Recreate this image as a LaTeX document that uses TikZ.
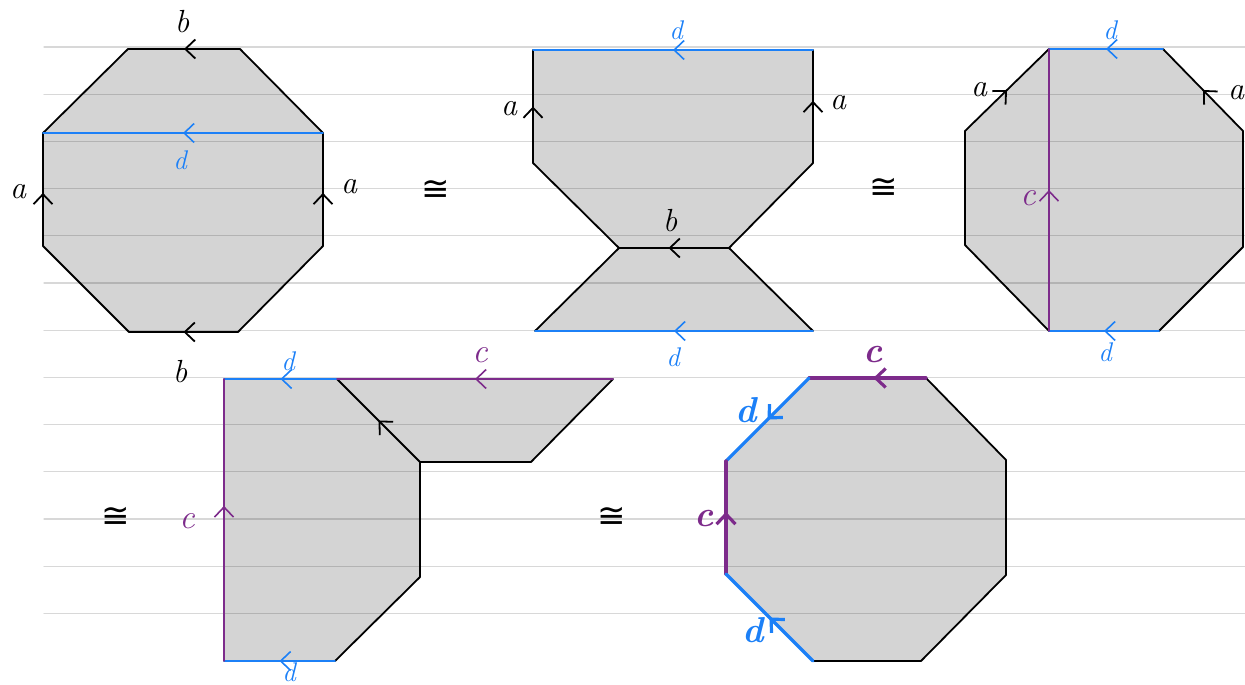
\documentclass[tikz,border=0pt]{standalone}
\usepackage{fontspec}
\newfontfamily\symbfont{DejaVu Sans}
\usepackage{tikz}
\usetikzlibrary{arrows.meta,decorations.markings,calc}
\definecolor{azure}{HTML}{1C80F7}
\definecolor{plum}{HTML}{7D2B8B}
\definecolor{ruling}{HTML}{D8D8D8}

\begin{document}
\begin{tikzpicture}[x=1pt,y=-1pt,line join=round,line cap=round]
  \tikzset{
    face/.style={fill=black,fill opacity=0.17,draw=none},
    rim/.style={color=black,line width=1.8pt},
    seam/.style={line width=1.6pt},
    thickseam/.style={line width=3.2pt},
    glued/.style={postaction={decorate,decoration={markings,
      mark=at position #1 with {\arrow{Straight Barb[length=10pt,width=19pt]}}}}},
    glued/.default=0.5,
    lbl/.style={inner sep=0pt,font=\fontsize{32}{36}\selectfont\itshape},
    tag/.style={inner sep=0pt,font=\fontsize{27}{30}\selectfont\itshape},
    ctag/.style={inner sep=0pt,font=\fontsize{34}{38}\selectfont\itshape},
    boldtag/.style={inner sep=0pt,font=\fontsize{36}{40}\selectfont\bfseries\itshape},
    iso/.style={inner sep=0pt,font=\fontsize{34}{38}\selectfont\symbfont}
  }
  \useasboundingbox (0,0) rectangle (1245,685);

  % ruled paper
  \foreach \k in {0,...,12}
    \draw[ruling,line width=1.2pt] (44,{47+47.2*\k}) -- (1245,{47+47.2*\k});

  % first octagon
  \coordinate (o1) at (128,49);  \coordinate (o2) at (240,49);
  \coordinate (o3) at (323,133); \coordinate (o4) at (323,246);
  \coordinate (o5) at (238,332); \coordinate (o6) at (129,332);
  \coordinate (o7) at (43,246);  \coordinate (o8) at (43,133);
  \fill[face] (o1) -- (o2) -- (o3) -- (o4) -- (o5) -- (o6) -- (o7) -- (o8) -- cycle;
  \draw[rim] (o2) -- (o3) (o4) -- (o5) (o6) -- (o7) (o8) -- (o1);
  \draw[rim,glued] (o2) -- (o1);
  \draw[rim,glued] (o5) -- (o6);
  \draw[rim,glued=0.47] (o4) -- (o3);
  \draw[rim,glued=0.47] (o7) -- (o8);
  \draw[azure,seam,glued] (o3) -- (o8);
  \node[lbl] (btop) at (182,22) {b};
  \node[lbl] (bbot) at (180,372) {b};
  \node[lbl] (aleft) at (18,192) {a};
  \node[lbl] (aright) at (349,187) {a};
  \node[tag,azure] (dmid) at (180,160) {d};

  \node[iso] (iso1) at (436,190) {≅};

  % hourglass
  \coordinate (h1) at (533,50);  \coordinate (h2) at (813,50);
  \coordinate (h3) at (813,163); \coordinate (h4) at (729,248);
  \coordinate (h5) at (813,331); \coordinate (h6) at (535,331);
  \coordinate (h7) at (619,248); \coordinate (h8) at (533,163);
  \fill[face] (h1) -- (h2) -- (h3) -- (h4) -- (h5) -- (h6) -- (h7) -- (h8) -- cycle;
  \draw[rim] (h3) -- (h4) -- (h5) (h8) -- (h7) -- (h6);
  \draw[rim,glued=0.5] (h8) -- (h1);
  \draw[rim,glued=0.55] (h3) -- (h2);
  \draw[rim,glued=0.55] (h4) -- (h7);
  \draw[azure,seam,glued] (h2) -- (h1);
  \draw[azure,seam,glued] (h5) -- (h6);
  \node[tag,azure] (dtop2) at (676,30) {d};
  \node[lbl] (aleft2) at (509,109) {a};
  \node[lbl] (aright2) at (838,103) {a};
  \node[lbl] (bmid2) at (670,221) {b};
  \node[tag,azure] (dbot2) at (673,357) {d};

  \node[iso] (iso2) at (884,188) {≅};

  % octagon with the cut c
  \coordinate (q1) at (1049,49);  \coordinate (q2) at (1163,49);
  \coordinate (q3) at (1243,131); \coordinate (q4) at (1243,247);
  \coordinate (q5) at (1159,331); \coordinate (q6) at (1049,331);
  \coordinate (q7) at (965,245);  \coordinate (q8) at (965,131);
  \fill[face] (q1) -- (q2) -- (q3) -- (q4) -- (q5) -- (q6) -- (q7) -- (q8) -- cycle;
  \draw[rim] (q3) -- (q4) -- (q5) (q6) -- (q7) -- (q8);
  \draw[rim,glued] (q8) -- (q1);
  \draw[rim,glued] (q3) -- (q2);
  \draw[azure,seam,glued] (q2) -- (q1);
  \draw[azure,seam,glued] (q5) -- (q6);
  \draw[plum,seam,glued=0.5] (q6) -- (q1);
  \node[tag,azure] (dtop3) at (1110,30) {d};
  \node[lbl] (aleft3) at (979,90) {a};
  \node[lbl] (aright3) at (1236,93) {a};
  \node[ctag,plum] (cmid3) at (1028,198) {c};
  \node[tag,azure] (dbot3) at (1105,352) {d};

  % second row
  \node[iso] (iso3) at (116,517) {≅};

  \coordinate (l1) at (224,379); \coordinate (l2) at (337,379);
  \coordinate (l3) at (420,462); \coordinate (l4) at (420,577);
  \coordinate (l5) at (335,661); \coordinate (l6) at (224,661);
  \coordinate (t1) at (613,379); \coordinate (t2) at (531,462);
  \fill[face] (l1) -- (l2) -- (l3) -- (l4) -- (l5) -- (l6) -- cycle;
  \fill[face] (l2) -- (t1) -- (t2) -- (l3) -- cycle;
  \draw[rim] (t1) -- (t2) -- (l3) -- (l4) -- (l5);
  \draw[rim,glued] (l3) -- (l2);
  \draw[azure,seam,glued] (l2) -- (l1);
  \draw[azure,seam,glued] (l5) -- (l6);
  \draw[plum,seam,glued] (t1) -- (l2);
  \draw[plum,seam,glued=0.55] (l6) -- (l1);
  \node[tag,azure] (dtop4) at (288,361) {d};
  \node[ctag,plum] (ctop4) at (480,355) {c};
  \node[ctag,plum] (cleft4) at (187,521) {c};
  \node[tag,azure] (dbot4) at (289,672) {d};

  \node[iso] (iso4) at (612,517) {≅};

  % final octagon
  \coordinate (s1) at (809,378);  \coordinate (s2) at (926,378);
  \coordinate (s3) at (1006,460); \coordinate (s4) at (1006,575);
  \coordinate (s5) at (921,661);  \coordinate (s6) at (813,661);
  \coordinate (s7) at (726,574);  \coordinate (s8) at (726,461);
  \fill[face] (s1) -- (s2) -- (s3) -- (s4) -- (s5) -- (s6) -- (s7) -- (s8) -- cycle;
  \draw[rim] (s2) -- (s3) -- (s4) -- (s5) -- (s6);
  \draw[plum,thickseam,glued=0.45] (s2) -- (s1);
  \draw[azure,thickseam,glued] (s1) -- (s8);
  \draw[plum,thickseam,glued=0.55] (s7) -- (s8);
  \draw[azure,thickseam,glued] (s6) -- (s7);
  \node[boldtag,plum] (ctop5) at (873,355) {c};
  \node[boldtag,azure] (dup5) at (746,410) {d};
  \node[boldtag,plum] (cleft5) at (704,519) {c};
  \node[boldtag,azure] (dlow5) at (753,630) {d};
\end{tikzpicture}
\end{document}
